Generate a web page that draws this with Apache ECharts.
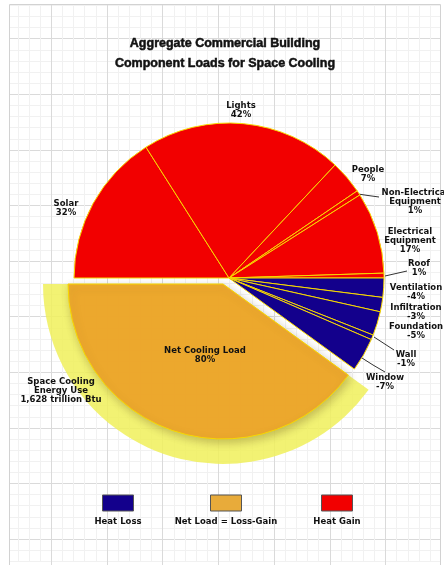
<!DOCTYPE html>
<html>
<head>
<meta charset="utf-8">
<style>
  html, body { margin: 0; padding: 0; background: #fff; }
  #chart { width: 444px; height: 565px; }
</style>
<script src="https://cdn.jsdelivr.net/npm/echarts@6/dist/echarts.min.js"></script>
</head>
<body>
<div id="chart"></div>
<script>
  // data
  const gainNames = ['Solar', 'Lights', 'People', 'Non-Electrical\nEquipment', 'Electrical\nEquipment', 'Roof'];
  const gainValues = [32, 42, 7, 1, 17, 1];
  const lossNames = ['Ventilation', 'Infiltration', 'Foundation', 'Wall', 'Window'];
  const lossValues = [-4, -3, -5, -1, -7];
  const netName = 'Net Cooling Load';
  const netValue = 80;
  const energyUseText = 'Space Cooling\nEnergy Use\n1,628 trillion Btu';
  const legendNames = ['Heat Loss', 'Net Load = Loss-Gain', 'Heat Gain'];

  const RED = '#f20000';
  const BLUE = '#13008c';
  const ORANGE = 'rgba(239,166,42,0.93)';
  const YELLOW = 'rgba(240,240,90,0.85)';
  const LABEL_FONT = 'DejaVu Sans';

  // where the hand-placed labels sit (centre of text block)
  const gainLabelPos = [[66, 208], [241, 110], [368, 174], [415, 202], [410, 241], [419, 268]];
  const lossLabelPos = [[416, 292], [416, 312], [416, 331], [406, 359], [385, 382]];
  const leaderLines = {
    3: [[358, 194], [368, 195.5], [379, 197]],
    5: [[385, 276], [396, 273.5], [407, 271]],
    9: [[374, 337], [384, 343.5], [394, 350]],
    10: [[362, 358], [373, 365], [385, 372]]
  };

  const chart = echarts.init(document.getElementById('chart'));

  const names = gainNames.concat(lossNames, [netName]);
  const signed = gainValues.concat(lossValues, [netValue]);
  const netIndex = names.length - 1;
  const labelPos = gainLabelPos.concat(lossLabelPos);

  const labelStyle = {
    fontFamily: LABEL_FONT,
    fontWeight: 'bold',
    fontSize: 8.5,
    lineHeight: 9,
    color: '#111',
    align: 'center'
  };

  // outer pie: gains and losses, the net slot left empty
  const mainData = names.map(function (n, i) {
    if (i === netIndex) {
      return { name: n, value: netValue, itemStyle: { color: 'transparent', borderWidth: 0 }, label: { show: false } };
    }
    return {
      name: n,
      value: Math.abs(signed[i]),
      itemStyle: { color: i < gainNames.length ? RED : BLUE },
      labelLine: { show: leaderLines[i] !== undefined }
    };
  });

  // net load slice, pulled out of the pie
  const netData = names.map(function (n, i) {
    if (i === netIndex) {
      return {
        name: n, value: netValue,
        itemStyle: {
          color: ORANGE, borderColor: '#f8d800', borderWidth: 1,
          shadowBlur: 8, shadowColor: 'rgba(60,40,0,0.28)', shadowOffsetX: 2, shadowOffsetY: 3
        }
      };
    }
    return { name: n, value: Math.abs(signed[i]), itemStyle: { color: 'transparent', borderWidth: 0 }, label: { show: false } };
  });

  // yellow energy-use band behind it
  const energyData = names.map(function (n, i) {
    if (i === netIndex) {
      return { name: energyUseText, value: netValue, itemStyle: { color: YELLOW } };
    }
    return { name: n, value: Math.abs(signed[i]), itemStyle: { color: 'transparent', borderWidth: 0 }, label: { show: false } };
  });

  const legendX = [118, 226, 337];
  const legendColors = [BLUE, '#e8ab3a', RED];
  const legendGraphics = [];
  legendNames.forEach(function (n, i) {
    legendGraphics.push({
      type: 'rect', z: 10,
      shape: { x: legendX[i] - 15.5, y: 495, width: 31, height: 16 },
      style: { fill: legendColors[i], stroke: '#555', lineWidth: 1 }
    });
    legendGraphics.push({
      type: 'text', z: 10,
      x: legendX[i], y: 522,
      style: {
        text: n, fill: '#111', align: 'center', verticalAlign: 'middle',
        font: 'bold 8.5px "' + LABEL_FONT + '"'
      }
    });
  });

  // graph-paper background: a fine grid, then coarse vertical and horizontal lines
  function paperAxis(gridIndex, max, color, inverse) {
    return {
      type: 'value', gridIndex: gridIndex, min: 0, max: max, interval: 1, inverse: !!inverse,
      axisLine: { show: false }, axisTick: { show: false }, axisLabel: { show: false },
      splitLine: { show: !!color, lineStyle: { color: color || '#000', width: 1 } }
    };
  }

  const option = {
    animation: false,
    backgroundColor: '#fff',
    title: {
      text: 'Aggregate Commercial Building\nComponent Loads for Space Cooling',
      left: 225,
      textAlign: 'center',
      top: 34,
      padding: 0,
      textStyle: {
        fontFamily: 'Liberation Sans',
        fontWeight: 'bold',
        fontSize: 12.5,
        lineHeight: 20,
        color: '#111',
        textBorderColor: '#111',
        textBorderWidth: 0.5
      }
    },
    grid: [
      { left: 6.76, right: 2.8, top: 5.34, bottom: 3.7 },
      { left: 51.3, right: 2.8, top: 4.5, bottom: 0 },
      { left: 9.5, right: 2.8, top: 38.7, bottom: 25.9 }
    ],
    xAxis: [
      paperAxis(0, 39, '#f1f1f1'),
      paperAxis(1, 7, '#dadada'),
      paperAxis(2, 1, null)
    ],
    yAxis: [
      paperAxis(0, 50, '#f1f1f1', true),
      paperAxis(1, 1, null, true),
      paperAxis(2, 9, '#dadada', true)
    ],
    graphic: [
      { type: 'rect', z: 1, silent: true, shape: { x: 0, y: 0, width: 9.5, height: 565 }, style: { fill: '#fff' } },
      { type: 'rect', z: 1, silent: true, shape: { x: 0, y: 0, width: 444, height: 4.5 }, style: { fill: '#fff' } },
      { type: 'rect', z: 1, silent: true, shape: { x: 441, y: 0, width: 3, height: 565 }, style: { fill: '#fff' } },
      { type: 'rect', z: 1, silent: true, shape: { x: 9.5, y: 4.5, width: 431, height: 570 }, style: { fill: 'none', stroke: '#d2d2d2', lineWidth: 1 } }
    ].concat(legendGraphics),
    series: [
      {
        type: 'pie',
        silent: true,
        center: [223, 284],
        radius: [0, 180],
        startAngle: 180,
        clockwise: true,
        avoidLabelOverlap: false,
        emphasis: { disabled: true },
        label: {
          show: true,
          position: 'outside',
          formatter: '{b}',
          ...labelStyle
        },
        labelLine: { show: false },
        labelLayout: function () {
          return { x: 61, y: 391, align: 'center', verticalAlign: 'middle' };
        },
        data: energyData
      },
      {
        type: 'pie',
        silent: true,
        center: [223, 284],
        radius: [0, 155],
        startAngle: 180,
        clockwise: true,
        avoidLabelOverlap: false,
        emphasis: { disabled: true },
        label: {
          show: true,
          position: 'outside',
          formatter: function (p) { return p.name + '\n' + signed[p.dataIndex] + '%'; },
          ...labelStyle
        },
        labelLine: { show: false },
        labelLayout: function () {
          return { x: 205, y: 355, align: 'center', verticalAlign: 'middle' };
        },
        data: netData
      },
      {
        type: 'pie',
        silent: true,
        center: [229, 278],
        radius: [0, 155],
        startAngle: 180,
        clockwise: true,
        avoidLabelOverlap: false,
        emphasis: { disabled: true },
        itemStyle: { borderColor: '#f8d800', borderWidth: 1 },
        label: {
          show: true,
          position: 'outside',
          formatter: function (p) { return p.name + '\n' + signed[p.dataIndex] + '%'; },
          ...labelStyle
        },
        labelLine: { show: false, lineStyle: { color: '#333', width: 1 } },
        labelLayout: function (params) {
          const i = params.dataIndex;
          const pos = labelPos[i];
          if (!pos) return {};
          const out = { x: pos[0], y: pos[1], align: 'center', verticalAlign: 'middle' };
          if (leaderLines[i]) out.labelLinePoints = leaderLines[i];
          return out;
        },
        data: mainData
      }
    ]
  };

  chart.setOption(option);
</script>
</body>
</html>
